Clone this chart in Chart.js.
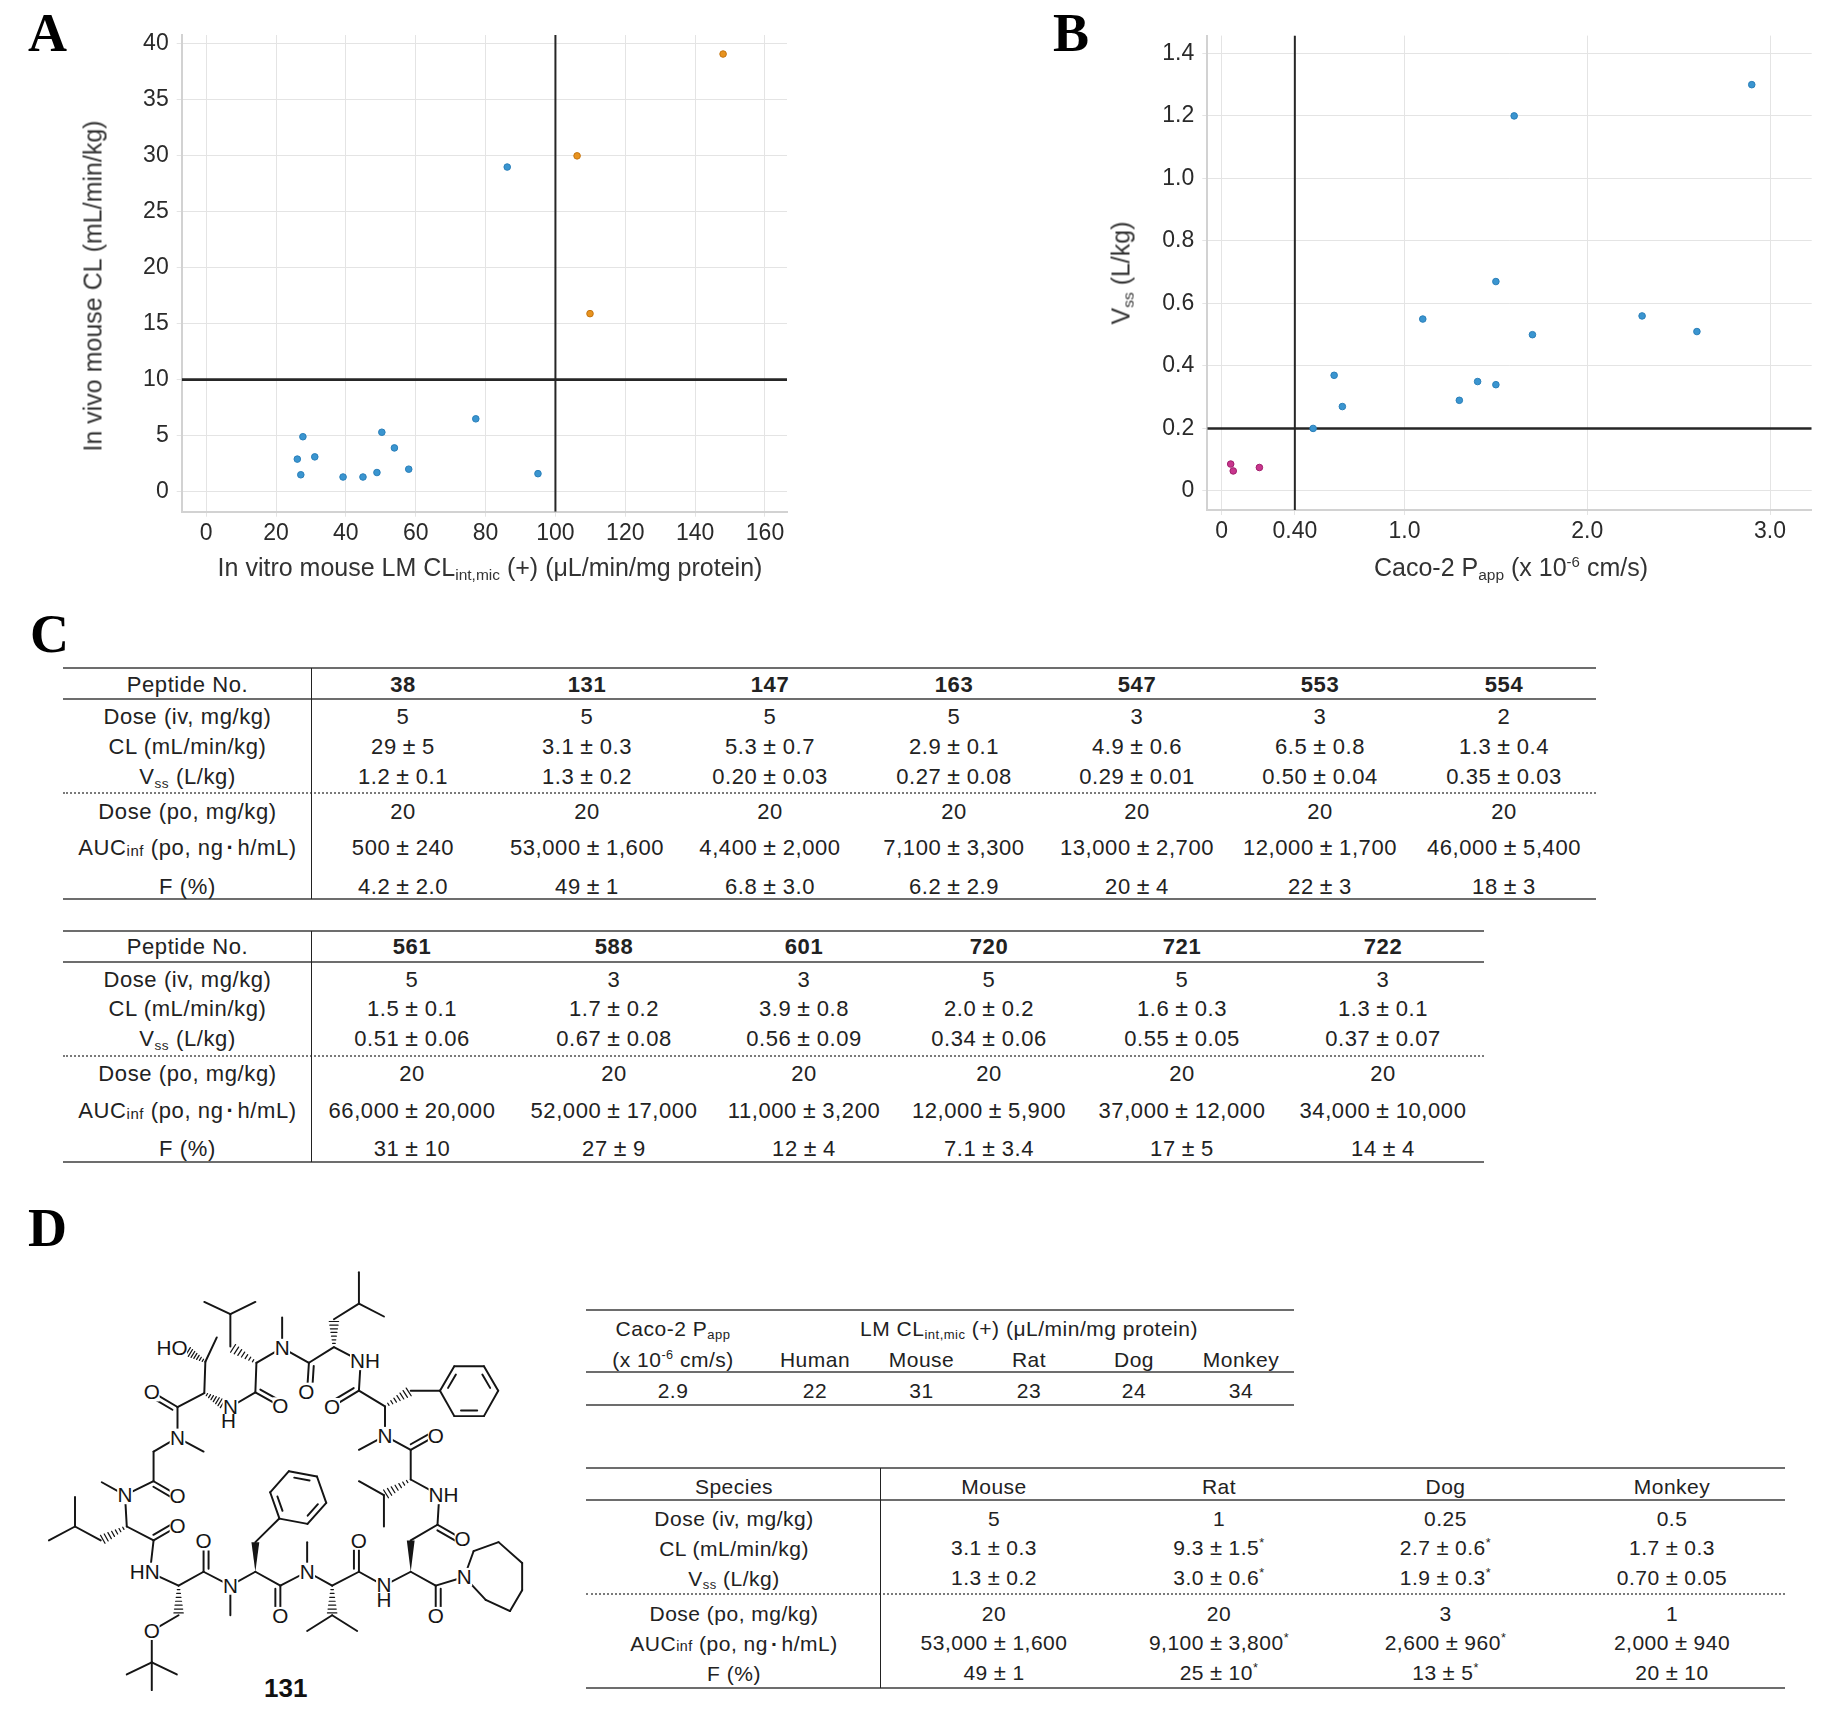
<!DOCTYPE html>
<html><head><meta charset="utf-8">
<script src="https://cdn.jsdelivr.net/npm/chart.js@4.4.1/dist/chart.umd.min.js"></script>
<style>
html,body{margin:0;padding:0;background:#fff;}
#page{position:relative;width:1828px;height:1726px;overflow:hidden;font-family:Arial,"Liberation Sans",sans-serif;color:#222;background:#fff;}
.t{position:absolute;white-space:nowrap;transform:translate(-50%,-50%);line-height:1;}
.rot{transform:translate(-50%,-50%) rotate(-90deg);}
.ln{position:absolute;height:0;}
.vl{position:absolute;width:0;}
.panel{position:absolute;font-family:"Times New Roman","Liberation Serif",serif;font-weight:bold;font-size:54px;line-height:1;color:#000;}
canvas{position:absolute;}
sub.s{font-size:0.62em;vertical-align:-0.28em;line-height:0;}
sup.s{font-size:0.6em;vertical-align:0.6em;line-height:0;}
sub.inf{font-size:0.68em;vertical-align:-0.05em;line-height:0;}
.pm{margin:0 6px;font-size:1.05em;}
.tbl{font-size:22px;letter-spacing:0.6px;color:#222;}
.tbld{font-size:21px;letter-spacing:0.5px;color:#222;}
.ax{font-size:25px;color:#333;}
</style></head>
<body><div id="page">
<canvas id="chartA" width="914" height="600" style="left:0;top:0;width:914px;height:600px"></canvas>
<canvas id="chartB" width="914" height="600" style="left:914px;top:0;width:914px;height:600px"></canvas>
</div>
<script>
// ================= DATA =================
// Panel A: in vitro mouse LM CLint,mic (x) vs in vivo mouse CL (y)
const aBlueX = [26.1, 27.1, 27.7, 31.1, 39.2, 44.9, 48.9, 50.3, 53.9, 58.0, 77.2, 86.2, 95.0];
const aBlueY = [2.9, 1.5, 4.9, 3.1, 1.3, 1.3, 1.7, 5.3, 3.9, 2.0, 6.5, 29, 1.6];
const aOrangeX = [106.2, 109.9, 148.0];
const aOrangeY = [30.0, 15.9, 39.1];
const aRefX = 100;
const aRefY = 10;
const aXTicks = [0, 20, 40, 60, 80, 100, 120, 140, 160];
const aXTickLabels = ['0', '20', '40', '60', '80', '100', '120', '140', '160'];
const aYTicks = [0, 5, 10, 15, 20, 25, 30, 35, 40];
const aYTickLabels = ['0', '5', '10', '15', '20', '25', '30', '35', '40'];

// Panel B: Caco-2 Papp (x) vs Vss (y)
const bBlueX = [0.50, 0.615, 0.66, 1.10, 1.30, 1.40, 1.50, 1.50, 1.60, 1.70, 2.30, 2.60, 2.90];
const bBlueY = [0.20, 0.37, 0.27, 0.55, 0.29, 0.35, 0.34, 0.67, 1.20, 0.50, 0.56, 0.51, 1.30];
const bMagentaX = [0.049, 0.063, 0.206];
const bMagentaY = [0.086, 0.064, 0.075];
const bRefX = 0.40;
const bRefY = 0.2;
const bXTicks = [0, 0.4, 1, 2, 3];
const bXTickLabels = ['0', '0.40', '1.0', '2.0', '3.0'];
const bYTicks = [0, 0.2, 0.4, 0.6, 0.8, 1.0, 1.2, 1.4];
const bYTickLabels = ['0', '0.2', '0.4', '0.6', '0.8', '1.0', '1.2', '1.4'];

// Panel C tables
const cRowLabels = ['Dose (iv, mg/kg)', 'CL (mL/min/kg)', 'V<sub class="s">ss</sub> (L/kg)', 'Dose (po, mg/kg)', 'AUC<sub class="inf">inf</sub> (po, ng<b style="margin:0 3px">·</b>h/mL)', 'F (%)'];
const c1Peptides = ['38', '131', '147', '163', '547', '553', '554'];
const c1DoseIV = ['5', '5', '5', '5', '3', '3', '2'];
const c1CL = ['29 ± 5', '3.1 ± 0.3', '5.3 ± 0.7', '2.9 ± 0.1', '4.9 ± 0.6', '6.5 ± 0.8', '1.3 ± 0.4'];
const c1Vss = ['1.2 ± 0.1', '1.3 ± 0.2', '0.20 ± 0.03', '0.27 ± 0.08', '0.29 ± 0.01', '0.50 ± 0.04', '0.35 ± 0.03'];
const c1DosePO = ['20', '20', '20', '20', '20', '20', '20'];
const c1AUC = ['500 ± 240', '53,000 ± 1,600', '4,400 ± 2,000', '7,100 ± 3,300', '13,000 ± 2,700', '12,000 ± 1,700', '46,000 ± 5,400'];
const c1F = ['4.2 ± 2.0', '49 ± 1', '6.8 ± 3.0', '6.2 ± 2.9', '20 ± 4', '22 ± 3', '18 ± 3'];

const c2Peptides = ['561', '588', '601', '720', '721', '722'];
const c2DoseIV = ['5', '3', '3', '5', '5', '3'];
const c2CL = ['1.5 ± 0.1', '1.7 ± 0.2', '3.9 ± 0.8', '2.0 ± 0.2', '1.6 ± 0.3', '1.3 ± 0.1'];
const c2Vss = ['0.51 ± 0.06', '0.67 ± 0.08', '0.56 ± 0.09', '0.34 ± 0.06', '0.55 ± 0.05', '0.37 ± 0.07'];
const c2DosePO = ['20', '20', '20', '20', '20', '20'];
const c2AUC = ['66,000 ± 20,000', '52,000 ± 17,000', '11,000 ± 3,200', '12,000 ± 5,900', '37,000 ± 12,000', '34,000 ± 10,000'];
const c2F = ['31 ± 10', '27 ± 9', '12 ± 4', '7.1 ± 3.4', '17 ± 5', '14 ± 4'];

// Panel D tables
const dLmSpecies = ['Human', 'Mouse', 'Rat', 'Dog', 'Monkey'];
const dCaco2 = '2.9';
const dLmValues = ['22', '31', '23', '24', '34'];
const dSpecies = ['Mouse', 'Rat', 'Dog', 'Monkey'];
const dDoseIV = ['5', '1', '0.25', '0.5'];
const dCL = ['3.1 ± 0.3', '9.3 ± 1.5*', '2.7 ± 0.6*', '1.7 ± 0.3'];
const dVss = ['1.3 ± 0.2', '3.0 ± 0.6*', '1.9 ± 0.3*', '0.70 ± 0.05'];
const dDosePO = ['20', '20', '3', '1'];
const dAUC = ['53,000 ± 1,600', '9,100 ± 3,800*', '2,600 ± 960*', '2,000 ± 940'];
const dF = ['49 ± 1', '25 ± 10*', '13 ± 5*', '20 ± 10'];

// ================= CHARTS =================
const tickFont = {family: 'Arial, "Liberation Sans", sans-serif', size: 23};
const GRID = '#e4e4e4';
function scatterChart(id, o) {
  const pts = (xs, ys) => xs.map((x, i) => ({x: x, y: ys[i]}));
  const ds = o.series.map(s => ({
    type: 'scatter', data: pts(s.x, s.y), backgroundColor: s.bg, borderColor: s.bd,
    borderWidth: 1, pointRadius: 3.3, order: 1
  }));
  ds.push({type: 'line', data: [{x: o.refX, y: o.yMin}, {x: o.refX, y: o.yMax}], borderColor: '#262626', borderWidth: o.vW, pointRadius: 0, fill: false, tension: 0, order: 5});
  ds.push({type: 'line', data: [{x: o.xMin, y: o.refY}, {x: o.xMax, y: o.refY}], borderColor: '#262626', borderWidth: o.hW, pointRadius: 0, fill: false, tension: 0, order: 5});
  return new Chart(document.getElementById(id), {
    type: 'scatter',
    data: {datasets: ds},
    options: {
      responsive: false, devicePixelRatio: 1, animation: false, events: [],
      layout: {padding: o.pad},
      plugins: {legend: {display: false}, tooltip: {enabled: false}},
      scales: {
        x: {
          type: 'linear', min: o.xMin, max: o.xMax,
          afterBuildTicks: s => { s.ticks = o.xTicks.map(v => ({value: v})); },
          afterFit: s => { s.height = o.xH; },
          ticks: {callback: (v, i) => o.xLabels[i], font: tickFont, color: '#2a2a2a', padding: 3, maxRotation: 0, autoSkip: false},
          grid: {color: GRID, lineWidth: 1, tickLength: 5, tickColor: GRID},
          border: {color: '#d2d2d2', width: 2}
        },
        y: {
          type: 'linear', min: o.yMin, max: o.yMax,
          afterBuildTicks: s => { s.ticks = o.yTicks.map(v => ({value: v})); },
          afterFit: s => { s.width = o.yW; },
          ticks: {callback: (v, i) => o.yLabels[i], font: tickFont, color: '#2a2a2a', padding: 8, autoSkip: false},
          grid: {color: GRID, lineWidth: 1, tickLength: 5, tickColor: GRID},
          border: {color: '#d2d2d2', width: 2}
        }
      }
    }
  });
}

scatterChart('chartA', {
  series: [
    {x: aBlueX, y: aBlueY, bg: '#3a95d0', bd: '#2a7fb9'},
    {x: aOrangeX, y: aOrangeY, bg: '#e8931f', bd: '#c47410'}
  ],
  refX: aRefX, refY: aRefY, vW: 2, hW: 2.6,
  xMin: -7, xMax: 166.3, yMin: -1.8, yMax: 40.8,
  xTicks: aXTicks, xLabels: aXTickLabels, yTicks: aYTicks, yLabels: aYTickLabels,
  pad: {top: 35, right: 127, bottom: 0, left: 0}, yW: 181.7, xH: 88.3
});

scatterChart('chartB', {
  series: [
    {x: bBlueX, y: bBlueY, bg: '#3a95d0', bd: '#2a7fb9'},
    {x: bMagentaX, y: bMagentaY, bg: '#c8358d', bd: '#a11e6c'}
  ],
  refX: bRefX, refY: bRefY, vW: 2, hW: 2.4,
  xMin: -0.079, xMax: 3.228, yMin: -0.061, yMax: 1.457,
  xTicks: bXTicks, xLabels: bXTickLabels, yTicks: bYTicks, yLabels: bYTickLabels,
  pad: {top: 35.6, right: 16.3, bottom: 0, left: 0}, yW: 293.3, xH: 90
});

// ================= HTML TEXT / TABLES =================
const page = document.getElementById('page');
function txt(html, cx, cy, cls, extra) {
  const d = document.createElement('div');
  d.className = 't ' + (cls || '');
  d.innerHTML = html;
  d.style.left = cx + 'px';
  d.style.top = cy + 'px';
  if (extra) d.style.cssText += extra;
  page.appendChild(d);
  return d;
}
function hline(x1, x2, y, w, color, style) {
  const d = document.createElement('div');
  d.className = 'ln';
  d.style.left = x1 + 'px'; d.style.width = (x2 - x1) + 'px';
  d.style.top = (y - w / 2) + 'px';
  d.style.borderTop = w + 'px ' + (style || 'solid') + ' ' + color;
  page.appendChild(d);
}
function vline(x, y1, y2, w, color) {
  const d = document.createElement('div');
  d.className = 'vl';
  d.style.left = (x - w / 2) + 'px'; d.style.top = y1 + 'px';
  d.style.height = (y2 - y1) + 'px';
  d.style.borderLeft = w + 'px solid ' + color;
  page.appendChild(d);
}
function fmt(v) {
  let s = v.replace(' ± ', '<span class="pm">±</span>');
  s = s.replace('*', '<sup class="s">*</sup>');
  return s;
}
function panel(letter, x, y) {
  const d = document.createElement('div');
  d.className = 'panel'; d.textContent = letter;
  d.style.left = x + 'px'; d.style.top = y + 'px';
  page.appendChild(d);
}

panel('A', 28, 5.5);
panel('B', 1053, 5.5);
panel('C', 30, 606.5);
panel('D', 28, 1200.5);

// Axis titles
txt('In vivo mouse CL (mL/min/kg)', 93, 286, 'ax rot');
txt('In vitro mouse LM CL<sub class="s">int,mic</sub> (+) (μL/min/mg protein)', 490, 567, 'ax');
txt('V<sub class="s">ss</sub> (L/kg)', 1121, 273, 'ax rot');
txt('Caco-2 P<sub class="s">app</sub> (x 10<sup class="s">-6</sup> cm/s)', 1511, 567, 'ax');

// Panel C tables
const cOff = {header: 16.7, hl: 31, rows: [49, 78.7, 108.7, 143.4, 180, 218.4], dotted: 125, bottom: 231};
function pkTable(top, x1, x2, divX, labelX, colX, header, rows) {
  hline(x1, x2, top, 2, '#6d6d6d');
  hline(x1, x2, top + cOff.hl, 2, '#6d6d6d');
  hline(x1, x2, top + cOff.dotted, 2, '#7a7a7a', 'dotted');
  hline(x1, x2, top + cOff.bottom, 2, '#6d6d6d');
  vline(divX, top, top + cOff.bottom, 1.6, '#222');
  txt('Peptide No.', labelX, top + cOff.header, 'tbl');
  header.forEach((h, i) => txt(h, colX[i], top + cOff.header, 'tbl', 'font-weight:bold'));
  rows.forEach((r, ri) => {
    txt(cRowLabels[ri], labelX, top + cOff.rows[ri], 'tbl');
    r.forEach((v, ci) => txt(fmt(v), colX[ci], top + cOff.rows[ri], 'tbl'));
  });
}
pkTable(668.3, 63, 1596, 312, 187.5, [403, 587, 770, 954, 1137, 1320, 1504], c1Peptides,
  [c1DoseIV, c1CL, c1Vss, c1DosePO, c1AUC, c1F]);
pkTable(930.7, 63, 1484, 312, 187.5, [412, 614, 804, 989, 1182, 1383], c2Peptides,
  [c2DoseIV, c2CL, c2Vss, c2DosePO, c2AUC, c2F]);

// Panel D small table
hline(586, 1294, 1309.5, 2, '#6d6d6d');
hline(586, 1294, 1372, 2, '#6d6d6d');
hline(586, 1294, 1404.6, 2, '#6d6d6d');
const dSmallCols = [815, 921.5, 1029, 1134, 1241];
txt('Caco-2 P<sub class="s">app</sub>', 673, 1328, 'tbld');
txt('(x 10<sup class="s">-6</sup> cm/s)', 673, 1359, 'tbld');
txt('LM CL<sub class="s">int,mic</sub> (+) (μL/min/mg protein)', 1029, 1328, 'tbld');
dLmSpecies.forEach((s, i) => txt(s, dSmallCols[i], 1359, 'tbld'));
txt(dCaco2, 673, 1390, 'tbld');
dLmValues.forEach((v, i) => txt(v, dSmallCols[i], 1390, 'tbld'));

// Panel D main table
const dTop = 1468.3;
hline(586, 1785, dTop, 2, '#6d6d6d');
hline(586, 1785, 1499.6, 2, '#6d6d6d');
hline(586, 1785, 1594.3, 2, '#7a7a7a', 'dotted');
hline(586, 1785, 1688.4, 2, '#6d6d6d');
vline(881, dTop, 1688.4, 1.6, '#222');
const dCols = [994, 1219, 1445.5, 1672];
const dRowsY = [1517.7, 1548.4, 1578, 1612.8, 1643, 1672.7];
txt('Species', 734, 1485.7, 'tbld');
dSpecies.forEach((s, i) => txt(s, dCols[i], 1485.7, 'tbld'));
[dDoseIV, dCL, dVss, dDosePO, dAUC, dF].forEach((r, ri) => {
  txt(cRowLabels[ri], 734, dRowsY[ri], 'tbld');
  r.forEach((v, ci) => txt(fmt(v), dCols[ci], dRowsY[ri], 'tbld'));
});

// ================= STRUCTURE (compound 131) =================
const M = [];
const ln = (a, b, c, d) => M.push(`<line x1="${a}" y1="${b}" x2="${c}" y2="${d}"/>`);
function dbl(a, b, c, d, side) {
  side = side || 1;
  ln(a, b, c, d);
  const dx = c - a, dy = d - b, L = Math.hypot(dx, dy);
  const px = -dy / L * 14 * side, py = dx / L * 14 * side;
  ln(a + px + dx * 0.1, b + py + dy * 0.1, c + px, d + py);
}
function hash(a, b, c, d) {
  const dx = c - a, dy = d - b, L = Math.hypot(dx, dy), ux = -dy / L, uy = dx / L;
  for (let i = 1; i <= 7; i++) {
    const t = i / 7.6, w = 2 + 12 * t, x = a + dx * t, y = b + dy * t;
    M.push(`<line class="h" x1="${x - ux * w}" y1="${y - uy * w}" x2="${x + ux * w}" y2="${y + uy * w}"/>`);
  }
}
function wedge(a, b, c, d) {
  const dx = c - a, dy = d - b, L = Math.hypot(dx, dy), ux = -dy / L * 11, uy = dx / L * 11;
  M.push(`<polygon class="w" points="${a},${b} ${c + ux},${d + uy} ${c - ux},${d - uy}"/>`);
}
function ring(pts, inner) {
  for (let i = 0; i < pts.length; i++) {
    const p = pts[i], q = pts[(i + 1) % pts.length];
    ln(p[0], p[1], q[0], q[1]);
  }
  if (inner) {
    const cx = pts.reduce((s, p) => s + p[0], 0) / pts.length;
    const cy = pts.reduce((s, p) => s + p[1], 0) / pts.length;
    [0, 2, 4].forEach(i => {
      const p = pts[i], q = pts[(i + 1) % pts.length];
      const f = 0.78, tr = 0.15;
      const p1 = [cx + (p[0] - cx) * f, cy + (p[1] - cy) * f], q1 = [cx + (q[0] - cx) * f, cy + (q[1] - cy) * f];
      const dx = q1[0] - p1[0], dy = q1[1] - p1[1];
      ln(p1[0] + dx * tr, p1[1] + dy * tr, q1[0] - dx * tr, q1[1] - dy * tr);
    });
  }
}
const T = [];
const R = [];
const lab = (x, y, s) => {
  const w = 40 * s.length + 4;
  R.push(`<rect x="${x - w / 2}" y="${y - 26}" width="${w}" height="52"/>`);
  T.push(`<text x="${x}" y="${y + 20}">${s}</text>`);
};

// Thr residue (top left) and ring walk
hash(575, 522, 522, 490); ln(575, 522, 607, 452); ln(575, 522, 572, 612);
ln(572, 612, 497, 652); hash(572, 612, 628, 645);
dbl(497, 652, 428, 610, -1); ln(497, 652, 497, 740);
ln(497, 740, 570, 780); ln(497, 740, 430, 780);
ln(430, 780, 430, 865); dbl(430, 865, 497, 905, 1); ln(430, 865, 350, 905);
ln(350, 905, 285, 868); ln(350, 905, 355, 995);
hash(355, 995, 282, 1035); ln(282, 1035, 210, 995); ln(210, 995, 137, 1035); ln(210, 995, 210, 910);
ln(355, 995, 430, 1035); dbl(430, 1035, 497, 995, -1); ln(430, 1035, 420, 1125);
ln(415, 1125, 500, 1165); hash(500, 1165, 500, 1250); ln(500, 1250, 425, 1295);
ln(425, 1295, 425, 1385); ln(425, 1385, 355, 1420); ln(425, 1385, 495, 1420); ln(425, 1385, 425, 1465);
ln(500, 1165, 570, 1125); dbl(570, 1125, 570, 1040, 1); ln(570, 1125, 645, 1165);
ln(645, 1165, 645, 1250); ln(645, 1165, 715, 1125);
wedge(715, 1125, 715, 1040); ln(715, 1040, 782, 972);
(function () {
  const pts = [];
  for (let k = 0; k < 6; k++) { const a = (131 + 60 * k) * Math.PI / 180; pts.push([835 + 80 * Math.cos(a), 912 + 80 * Math.sin(a)]); }
  ring(pts, true);
})();
ln(715, 1125, 785, 1165); dbl(785, 1165, 785, 1250, 1); ln(785, 1165, 860, 1125);
ln(860, 1125, 860, 1040); ln(860, 1125, 930, 1165);
hash(930, 1165, 930, 1250); ln(930, 1250, 860, 1295); ln(930, 1250, 1000, 1295);
ln(930, 1165, 1005, 1125); dbl(1005, 1125, 1005, 1040, -1); ln(1005, 1125, 1075, 1165);
ln(1075, 1165, 1150, 1125); wedge(1150, 1125, 1150, 1035);
ln(1150, 1035, 1225, 990); dbl(1225, 990, 1293, 1030, 1); ln(1225, 990, 1230, 905);
ln(1230, 905, 1150, 860); hash(1150, 860, 1075, 905);
ln(1075, 905, 1005, 865); ln(1075, 905, 1075, 995);
ln(1150, 860, 1150, 775); dbl(1150, 775, 1220, 735, -1); ln(1150, 775, 1078, 735);
ln(1078, 735, 1005, 775); ln(1078, 735, 1078, 650);
hash(1078, 650, 1150, 605); ln(1150, 605, 1232, 605);
ring([[1232, 605], [1272, 535], [1355, 535], [1395, 605], [1355, 678], [1272, 678]], true);
ln(1078, 650, 1005, 605); dbl(1005, 605, 932, 650, 1); ln(1005, 605, 1010, 520);
ln(1010, 520, 935, 480); hash(935, 480, 935, 400);
ln(935, 400, 1005, 355); ln(1005, 355, 1005, 265); ln(1005, 355, 1075, 392);
ln(935, 480, 865, 525); dbl(865, 525, 860, 605, -1); ln(865, 525, 790, 482);
ln(790, 482, 790, 395); ln(790, 482, 718, 525);
hash(718, 525, 647, 480); ln(645, 478, 645, 385); ln(645, 385, 572, 350); ln(645, 385, 715, 350);
ln(718, 525, 715, 610); dbl(715, 610, 785, 650, -1); ln(715, 610, 645, 652);
// azepane
ring([[1300, 1140], [1326, 1066], [1396, 1040], [1462, 1100], [1462, 1178], [1428, 1238], [1360, 1206]], false);
ln(1220, 1165, 1300, 1140); ln(1150, 1125, 1220, 1165); dbl(1220, 1165, 1220, 1250, -1);

// atom labels
lab(482, 482, 'HO'); lab(425, 610, 'O'); lab(645, 652, 'N'); lab(640, 692, 'H'); lab(785, 650, 'O');
lab(790, 482, 'N'); lab(858, 608, 'O'); lab(1022, 520, 'NH'); lab(930, 652, 'O');
lab(1078, 735, 'N'); lab(1220, 735, 'O'); lab(1242, 905, 'NH'); lab(1295, 1030, 'O');
lab(1300, 1140, 'N'); lab(1220, 1252, 'O'); lab(1075, 1162, 'N'); lab(1075, 1205, 'H');
lab(1005, 1036, 'O'); lab(860, 1125, 'N'); lab(785, 1252, 'O'); lab(645, 1165, 'N');
lab(570, 1038, 'O'); lab(405, 1125, 'HN'); lab(425, 1295, 'O'); lab(497, 995, 'O');
lab(350, 905, 'N'); lab(497, 907, 'O'); lab(497, 740, 'N');

const svg = `<svg xmlns="http://www.w3.org/2000/svg" viewBox="0 0 1568 1568" preserveAspectRatio="none"
 style="position:absolute;left:0;top:1180px;width:560px;height:546px">
 <g stroke="#151515" stroke-width="5.5" stroke-linecap="round" fill="none">${M.join('')}</g>
 <style>.h{stroke-width:3.5}.w{fill:#151515;stroke:none}</style>
 <g fill="#fff" stroke="none">${R.join('')}</g>
 <g font-family="Arial, Liberation Sans, sans-serif" font-size="58" fill="#151515" text-anchor="middle">${T.join('')}</g>
</svg>`;
page.insertAdjacentHTML('beforeend', svg);
txt('131', 285.7, 1688, '', 'font-size:26px;font-weight:bold;color:#111');
</script>
</body></html>
